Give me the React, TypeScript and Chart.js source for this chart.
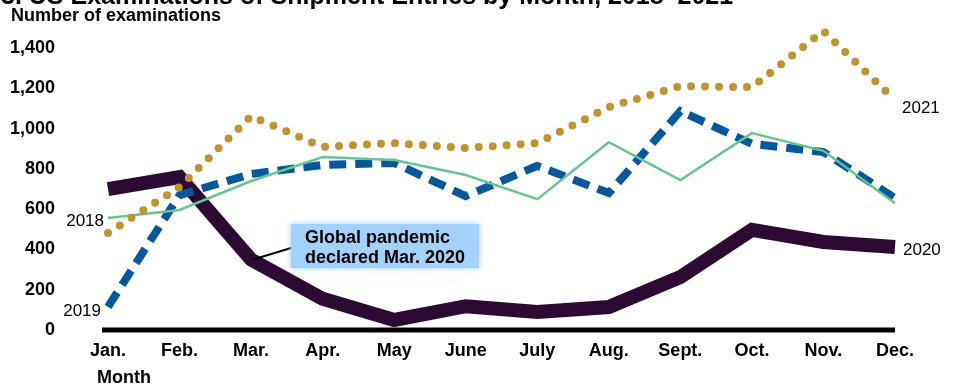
import React, { useEffect, useRef } from "react";
import { Chart, registerables } from "chart.js";

Chart.register(...registerables);

// Monthly examinations of shipment entries, by year
const months = ["Jan.", "Feb.", "Mar.", "Apr.", "May", "June", "July", "Aug.", "Sept.", "Oct.", "Nov.", "Dec."];
const exams2018 = [556, 596, 740, 859, 844, 770, 650, 933, 745, 978, 890, 630];
const exams2019 = [115, 670, 775, 820, 830, 665, 815, 680, 1087, 925, 884, 655];
const exams2020 = [700, 760, 350, 155, 50, 118, 90, 114, 263, 497, 437, 412];
const exams2021 = [482, 710, 1062, 909, 928, 904, 928, 1107, 1211, 1206, 1485, 1142];
const yTickValues = [0, 200, 400, 600, 800, 1000, 1200, 1400];

const seriesLabels = ["2018", "2019", "2020", "2021"];
const titleText = "3. US Examinations of Shipment Entries by Month, 2018\u20132021";
const yAxisTitle = "Number of examinations";
const xAxisTitle = "Month";
const noteLines = ["Global pandemic", "declared Mar. 2020"];
const noteMonthIndex = 2;

const FONT = "'Liberation Sans', Arial, Helvetica, sans-serif";

const COLORS = {
  y2018: "#68c391",
  y2019: "#07579b",
  y2020: "#2d0a33",
  y2021: "#bf9434",
};

const decorations = {
  id: "decorations",
  beforeDatasetsDraw(chart: any) {
    const { ctx } = chart;
    const xs = chart.scales.x;
    const ys = chart.scales.y;
    // heavy baseline along zero
    const y0 = ys.getPixelForValue(0);
    ctx.save();
    ctx.strokeStyle = "#000";
    ctx.lineWidth = 5;
    ctx.beginPath();
    ctx.moveTo(xs.getPixelForValue(0) - 6, y0);
    ctx.lineTo(xs.getPixelForValue(months.length - 1), y0);
    ctx.stroke();
    ctx.restore();
  },
  afterDatasetsDraw(chart: any) {
    const { ctx } = chart;
    const xs = chart.scales.x;
    const ys = chart.scales.y;
    const last = months.length - 1;
    ctx.save();

    // chart title, running off the top edge
    ctx.fillStyle = "#000";
    ctx.font = `bold 25px ${FONT}`;
    ctx.textAlign = "left";
    ctx.textBaseline = "alphabetic";
    ctx.fillText(titleText, 1, 4);

    // axis titles
    ctx.font = `bold 18px ${FONT}`;
    ctx.textBaseline = "middle";
    ctx.fillText(yAxisTitle, 11, 16);
    ctx.fillText(xAxisTitle, 97, 378);

    // series labels next to line ends
    ctx.font = `17px ${FONT}`;
    ctx.textAlign = "right";
    ctx.fillText(seriesLabels[0], xs.getPixelForValue(0) - 4, ys.getPixelForValue(exams2018[0]) + 3);
    ctx.fillText(seriesLabels[1], xs.getPixelForValue(0) - 7, ys.getPixelForValue(exams2019[0]) + 4);
    ctx.textAlign = "left";
    ctx.fillText(seriesLabels[2], xs.getPixelForValue(last) + 8, ys.getPixelForValue(exams2020[last]) + 3);
    ctx.fillText(seriesLabels[3], xs.getPixelForValue(last) + 7, ys.getPixelForValue(exams2021[last]) + 8);

    // callout box with leader line
    const bx = 291;
    const by = 224;
    const bw = 188;
    const bh = 44;
    const px = xs.getPixelForValue(noteMonthIndex);
    const py = ys.getPixelForValue(exams2020[noteMonthIndex]);
    ctx.strokeStyle = "#000";
    ctx.lineWidth = 2;
    ctx.beginPath();
    ctx.moveTo(px + 2, py);
    ctx.lineTo(bx, by + 24);
    ctx.stroke();

    ctx.shadowColor = "rgba(150,200,248,0.9)";
    ctx.shadowBlur = 6;
    ctx.fillStyle = "#a3d1fa";
    ctx.fillRect(bx, by, bw, bh);
    ctx.shadowBlur = 0;
    ctx.shadowColor = "transparent";

    ctx.fillStyle = "#000";
    ctx.font = `bold 18px ${FONT}`;
    ctx.textAlign = "left";
    ctx.textBaseline = "alphabetic";
    ctx.fillText(noteLines[0], bx + 14, by + 19);
    ctx.fillText(noteLines[1], bx + 14, by + 39);
    ctx.restore();
  },
};

export default function App() {
  const canvasRef = useRef<HTMLCanvasElement | null>(null);

  useEffect(() => {
    document.body.style.margin = "0";
    const canvas = canvasRef.current;
    if (!canvas) return;
    const chart = new Chart(canvas, {
      type: "line",
      data: {
        labels: months,
        datasets: [
          {
            label: seriesLabels[3],
            data: exams2021,
            borderColor: COLORS.y2021,
            borderWidth: 8,
            borderDash: [0, 14],
            borderCapStyle: "round",
            borderJoinStyle: "round",
            pointRadius: 0,
            tension: 0,
            clip: false,
            order: 0,
          },
          {
            label: seriesLabels[0],
            data: exams2018,
            borderColor: COLORS.y2018,
            borderWidth: 2.5,
            pointRadius: 0,
            tension: 0,
            clip: false,
            order: 1,
          },
          {
            label: seriesLabels[1],
            data: exams2019,
            borderColor: COLORS.y2019,
            borderWidth: 8,
            borderDash: [17, 9],
            borderCapStyle: "butt",
            borderJoinStyle: "miter",
            pointRadius: 0,
            tension: 0,
            clip: false,
            order: 2,
          },
          {
            label: seriesLabels[2],
            data: exams2020,
            borderColor: COLORS.y2020,
            borderWidth: 14,
            borderCapStyle: "butt",
            borderJoinStyle: "miter",
            pointRadius: 0,
            tension: 0,
            clip: false,
            order: 3,
          },
        ],
      },
      options: {
        responsive: false,
        animation: false,
        devicePixelRatio: 1,
        locale: "en-US",
        layout: { padding: { top: 28, right: 61, left: 0, bottom: 0 } },
        plugins: {
          legend: { display: false },
          title: { display: false },
          tooltip: { enabled: false },
        },
        scales: {
          x: {
            type: "category",
            offset: false,
            grid: { display: false, drawTicks: false },
            border: { display: false },
            ticks: {
              color: "#000",
              font: { family: FONT, size: 18, weight: "bold" },
              padding: 10,
              maxRotation: 0,
              autoSkip: false,
            },
            afterFit(scale: any) {
              scale.height = 58;
              scale.paddingLeft = 0;
              scale.paddingRight = 0;
            },
          },
          y: {
            min: 0,
            max: 1500,
            grid: { display: false, drawTicks: false },
            border: { display: false },
            ticks: {
              color: "#000",
              font: { family: FONT, size: 18, weight: "bold" },
              padding: 53,
              stepSize: 200,
            },
            afterBuildTicks(scale: any) {
              scale.ticks = yTickValues.map((v) => ({ value: v }));
            },
            afterFit(scale: any) {
              scale.width = 108;
              scale.paddingTop = 0;
              scale.paddingBottom = 0;
            },
          },
        },
      },
      plugins: [decorations],
    });
    return () => chart.destroy();
  }, []);

  return (
    <div style={{ width: 956, height: 388, background: "#fff" }}>
      <canvas ref={canvasRef} width={956} height={388} style={{ display: "block" }} />
    </div>
  );
}
